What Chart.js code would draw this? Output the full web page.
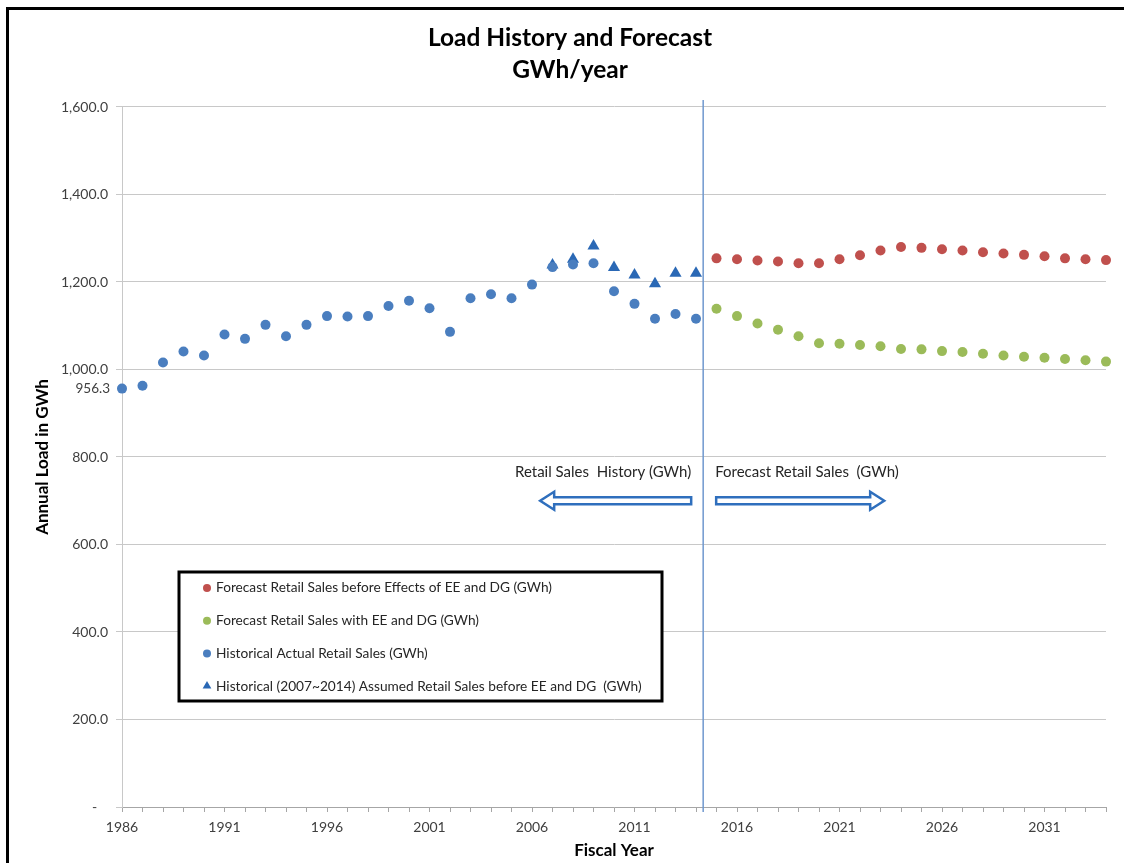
<!DOCTYPE html>
<html>
<head>
<meta charset="utf-8">
<title>Load History and Forecast</title>
<script src="https://cdn.jsdelivr.net/npm/chart.js@4.4.1/dist/chart.umd.min.js"></script>
<style>
  html, body { margin: 0; padding: 0; background: #fff; overflow: hidden; }
  #wrap { position: absolute; left: 0; top: 0; width: 1124px; height: 863px; }
  #frame { position: absolute; left: 6px; top: 7px; width: 1200px; height: 1000px;
           border-left: 3px solid #000; border-top: 3px solid #000; pointer-events: none; }
</style>
</head>
<body>
<div id="wrap"><canvas id="loadChart"></canvas></div>
<div id="frame"></div>
<script>
// historical actual retail sales (GWh)
const histYears = [1986, 1987, 1988, 1989, 1990, 1991, 1992, 1993, 1994, 1995,
                   1996, 1997, 1998, 1999, 2000, 2001, 2002, 2003, 2004, 2005,
                   2006, 2007, 2008, 2009, 2010, 2011, 2012, 2013, 2014];
const histActual = [956.3, 963, 1016, 1041, 1032, 1080, 1070, 1102, 1076, 1102,
                    1122, 1121, 1122, 1145, 1157, 1140, 1086, 1163, 1172, 1163,
                    1194, 1234, 1240, 1243, 1179, 1150, 1116, 1127, 1116];

// assumed sales before EE and DG, 2007~2014
const assumedYears = [2007, 2008, 2009, 2010, 2011, 2012, 2013, 2014];
const assumedBefore = [1239, 1252, 1282, 1233, 1216, 1196, 1220, 1220];

// forecast
const forecastYears = [2015, 2016, 2017, 2018, 2019, 2020, 2021, 2022, 2023, 2024,
                       2025, 2026, 2027, 2028, 2029, 2030, 2031, 2032, 2033, 2034];
const forecastBefore = [1254, 1252, 1249, 1247, 1243, 1243, 1252, 1261, 1272, 1280,
                        1278, 1275, 1272, 1268, 1265, 1262, 1259, 1254, 1252, 1250];
const forecastWith = [1139, 1122, 1105, 1091, 1076, 1060, 1059, 1056, 1053, 1047,
                      1046, 1042, 1040, 1036, 1032, 1029, 1027, 1024, 1021, 1018];

const seriesNames = [
  'Forecast Retail Sales before Effects of EE and DG (GWh)',
  'Forecast Retail Sales with EE and DG (GWh)',
  'Historical Actual Retail Sales (GWh)',
  'Historical (2007~2014) Assumed Retail Sales before EE and DG  (GWh)'
];

const firstYear = 1986;
const lastYear = 2034;
const dividerYear = 2014.35;
const historyLabel = 'Retail Sales  History (GWh)';
const forecastLabel = 'Forecast Retail Sales  (GWh)';

const toPoints = (xs, ys) => xs.map((x, i) => ({ x: x, y: ys[i] }));

Chart.defaults.font.family = 'Lato, "Open Sans", sans-serif';
Chart.defaults.color = '#595959';

// hollow block arrow from x0 (tail) to x1 (tip)
function blockArrow(ctx, x0, x1, y) {
  const dir = x1 > x0 ? 1 : -1;
  const h = 3.5, H = 9, L = 14;
  const xb = x1 - dir * L;
  ctx.beginPath();
  ctx.moveTo(x0, y - h);
  ctx.lineTo(xb, y - h);
  ctx.lineTo(xb, y - H);
  ctx.lineTo(x1, y);
  ctx.lineTo(xb, y + H);
  ctx.lineTo(xb, y + h);
  ctx.lineTo(x0, y + h);
  ctx.closePath();
  ctx.fillStyle = '#fff';
  ctx.fill();
  ctx.lineWidth = 2.5;
  ctx.strokeStyle = '#2f6fbd';
  ctx.stroke();
}

function marker(ctx, style, color, cx, cy, r) {
  ctx.fillStyle = color;
  ctx.beginPath();
  if (style === 'triangle') {
    ctx.moveTo(cx, cy - r);
    ctx.lineTo(cx + r * 0.87, cy + r * 0.5);
    ctx.lineTo(cx - r * 0.87, cy + r * 0.5);
    ctx.closePath();
  } else {
    ctx.arc(cx, cy, r, 0, Math.PI * 2);
  }
  ctx.fill();
}

const extras = {
  id: 'extras',
  afterDraw(chart) {
    const { ctx, chartArea, scales: { x, y } } = chart;
    ctx.save();

    // history / forecast divider
    const px = x.getPixelForValue(dividerYear);
    ctx.strokeStyle = '#6f98cf';
    ctx.lineWidth = 1.5;
    ctx.beginPath();
    ctx.moveTo(px, chartArea.top - 7);
    ctx.lineTo(px, chartArea.bottom + 5);
    ctx.stroke();

    ctx.font = '15px Lato, sans-serif';
    ctx.fillStyle = '#262626';
    ctx.textBaseline = 'middle';
    const ty = y.getPixelForValue(766);
    ctx.textAlign = 'right';
    ctx.fillText(historyLabel, px - 12, ty);
    ctx.textAlign = 'left';
    ctx.fillText(forecastLabel, px + 12, ty);

    const ay = y.getPixelForValue(700);
    blockArrow(ctx, px - 12, px - 163, ay);
    blockArrow(ctx, px + 13, px + 181, ay);

    // label on first historical point
    const p0 = chart.getDatasetMeta(2).data[0];
    ctx.font = '13.5px Lato, sans-serif';
    ctx.fillStyle = '#404040';
    ctx.textAlign = 'right';
    ctx.fillText(histActual[0].toFixed(1), p0.x - 12, p0.y);

    // boxed legend
    const left = chartArea.left + 57, top = chartArea.top + 465;
    const w = 483, h = 129;
    ctx.fillStyle = '#fff';
    ctx.fillRect(left, top, w, h);
    ctx.lineWidth = 3;
    ctx.strokeStyle = '#000';
    ctx.strokeRect(left, top, w, h);
    ctx.font = '13.7px Lato, sans-serif';
    ctx.textAlign = 'left';
    chart.data.datasets.forEach((ds, i) => {
      const cy = top + 16 + i * 32.7;
      marker(ctx, ds.pointStyle, ds.backgroundColor, left + 28, cy, ds.pointStyle === 'triangle' ? 5 : 4);
      ctx.fillStyle = '#262626';
      ctx.fillText(ds.label, left + 37, cy);
    });

    ctx.restore();
  }
};

new Chart(document.getElementById('loadChart'), {
  type: 'scatter',
  data: {
    datasets: [
      {
        label: seriesNames[0],
        data: toPoints(forecastYears, forecastBefore),
        pointStyle: 'circle',
        backgroundColor: '#c0504d',
        borderWidth: 0,
        pointRadius: 5,
        clip: false
      },
      {
        label: seriesNames[1],
        data: toPoints(forecastYears, forecastWith),
        pointStyle: 'circle',
        backgroundColor: '#9bbb59',
        borderWidth: 0,
        pointRadius: 5,
        clip: false
      },
      {
        label: seriesNames[2],
        data: toPoints(histYears, histActual),
        pointStyle: 'circle',
        backgroundColor: '#4a7ebf',
        borderWidth: 0,
        pointRadius: 5,
        clip: false
      },
      {
        label: seriesNames[3],
        data: toPoints(assumedYears, assumedBefore),
        pointStyle: 'triangle',
        backgroundColor: '#2a68b5',
        borderWidth: 0,
        pointRadius: 7,
        clip: false
      }
    ]
  },
  options: {
    responsive: true,
    maintainAspectRatio: false,
    animation: false,
    layout: { padding: { left: 34, top: 0, right: 18, bottom: 0 } },
    plugins: {
      legend: { display: false },
      tooltip: { enabled: false },
      title: {
        display: true,
        text: ['Load History and Forecast', 'GWh/year'],
        color: '#000',
        font: { size: 24.5, weight: 'bold', lineHeight: 1.306 },
        padding: { top: 22, bottom: 21 }
      }
    },
    scales: {
      x: {
        type: 'linear',
        min: firstYear,
        max: lastYear,
        afterFit: (s) => { s.height = 56; },
        ticks: {
          stepSize: 1,
          autoSkip: false,
          maxRotation: 0,
          padding: 7,
          font: { size: 14 },
          color: '#404040',
          callback: (v) => ((v - firstYear) % 5 === 0 ? String(v) : '')
        },
        grid: { drawOnChartArea: false, drawTicks: true, tickLength: 5, color: '#a6a6a6' },
        border: { color: '#a6a6a6' },
        title: {
          display: true,
          text: 'Fiscal Year',
          color: '#000',
          font: { size: 17, weight: 'bold' },
          padding: { top: 0, bottom: 2 }
        }
      },
      y: {
        min: 0,
        max: 1600,
        afterFit: (s) => { s.width = 88; },
        ticks: {
          stepSize: 200,
          padding: 8,
          font: { size: 14 },
          color: '#404040',
          callback: (v) => (v === 0 ? '-   ' : v.toLocaleString('en-US', { minimumFractionDigits: 1, maximumFractionDigits: 1 }))
        },
        grid: { color: '#c8c8c8', tickLength: 6 },
        border: { color: '#c8c8c8' },
        title: {
          display: true,
          text: 'Annual Load in GWh',
          color: '#000',
          font: { size: 17, weight: 'bold' },
          padding: { top: -2, bottom: 0 }
        }
      }
    }
  },
  plugins: [extras]
});
</script>
</body>
</html>
